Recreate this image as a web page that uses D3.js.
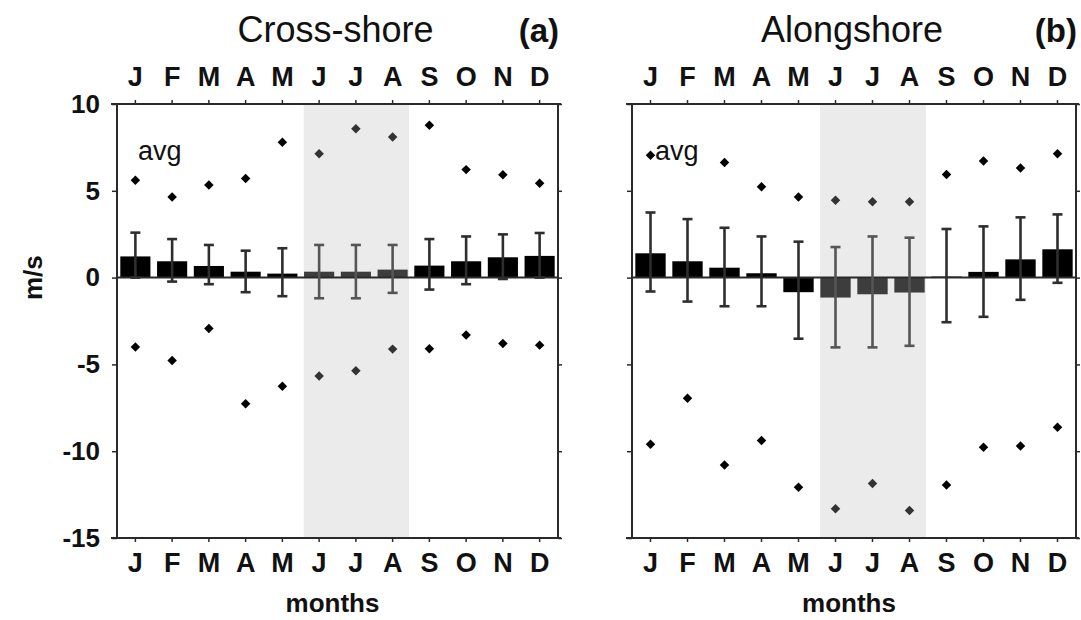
<!DOCTYPE html>
<html>
<head>
<meta charset="utf-8">
<script src="https://cdn.jsdelivr.net/npm/d3@7"></script>
<style>
  html, body { margin: 0; padding: 0; background: #fff; }
  svg { display: block; font-family: "Liberation Sans", Arial, sans-serif; }
</style>
</head>
<body>
<svg id="chart" width="1081" height="620"></svg>
<script>
// ---------- data ----------
const monthLabels = ["J","F","M","A","M","J","J","A","S","O","N","D"];
const monthIdx = d3.range(12);
const summerMonths = [5, 6, 7];
const yTicks = [-15, -10, -5, 0, 5, 10];

// Cross-shore (a)
const crossMean  = [1.22, 0.94, 0.67, 0.34, 0.23, 0.34, 0.34, 0.46, 0.69, 0.94, 1.17, 1.25];
const crossErrHi = [2.59, 2.22, 1.88, 1.55, 1.69, 1.88, 1.88, 1.88, 2.22, 2.37, 2.49, 2.57];
const crossErrLo = [0.00, -0.23, -0.38, -0.84, -1.07, -1.19, -1.19, -0.88, -0.69, -0.38, -0.08, 0.00];
const crossMax   = [5.61, 4.64, 5.34, 5.71, 7.80, 7.13, 8.58, 8.10, 8.78, 6.22, 5.92, 5.44];
const crossMin   = [-4.00, -4.77, -2.93, -7.26, -6.26, -5.67, -5.36, -4.12, -4.10, -3.30, -3.79, -3.89];

// Alongshore (b)
const alongMean  = [1.40, 0.94, 0.57, 0.25, -0.84, -1.15, -0.96, -0.86, 0.06, 0.33, 1.05, 1.63];
const alongErrHi = [3.75, 3.37, 2.87, 2.37, 2.07, 1.76, 2.37, 2.30, 2.80, 2.95, 3.47, 3.64];
const alongErrLo = [-0.80, -1.38, -1.65, -1.65, -3.52, -4.02, -4.02, -3.93, -2.57, -2.26, -1.28, -0.30];
const alongMax   = [7.05, null, 6.63, 5.23, 4.64, 4.46, 4.37, 4.37, 5.94, 6.72, 6.32, 7.13];
const alongMin   = [-9.60, -6.95, -10.79, -9.39, -12.07, -13.31, -11.86, -13.41, -11.95, -9.77, -9.70, -8.62];

const panels = [
  { title: "Cross-shore", tag: "(a)", mean: crossMean, hi: crossErrHi, lo: crossErrLo, max: crossMax, min: crossMin,
    left: 117, right: 558, yLabels: true },
  { title: "Alongshore", tag: "(b)", mean: alongMean, hi: alongErrHi, lo: alongErrLo, max: alongMax, min: alongMin,
    left: 632, right: 1076, yLabels: false }
];

// ---------- drawing ----------
const svg = d3.select("#chart");
const plotTop = 104, plotBottom = 538;
const y = d3.scaleLinear().domain([-15, 10]).range([plotBottom, plotTop]);
const axisColor = "#2a2a2a";
const diamond = { draw(ctx, size) { const r = Math.sqrt(size) / 2; ctx.moveTo(0, -r); ctx.lineTo(r, 0); ctx.lineTo(0, r); ctx.lineTo(-r, 0); ctx.closePath(); } };
const isSummer = i => summerMonths.includes(i);

panels.forEach(p => {
  const g = svg.append("g");
  const x = d3.scaleBand().domain(monthIdx).range([p.left, p.right]).paddingInner(0).paddingOuter(0);
  const bw = x.bandwidth();
  const cx = i => x(i) + bw / 2;

  // summer shading
  const s0 = x(summerMonths[0]) + 3;
  const s1 = x(summerMonths[summerMonths.length - 1]) + bw - 2;
  g.append("rect")
    .attr("x", s0).attr("y", plotTop)
    .attr("width", s1 - s0).attr("height", plotBottom - plotTop)
    .attr("fill", "#ebebeb");

  // bars
  const barW = bw * 0.82;
  g.selectAll("rect.bar").data(monthIdx).join("rect")
    .attr("class", "bar")
    .attr("x", i => cx(i) - barW / 2)
    .attr("y", i => y(Math.max(0, p.mean[i])))
    .attr("width", barW)
    .attr("height", i => Math.abs(y(p.mean[i]) - y(0)))
    .attr("fill", i => isSummer(i) ? "#3d3d3d" : "#000");

  // zero line
  g.append("line").attr("x1", p.left).attr("x2", p.right).attr("y1", y(0)).attr("y2", y(0))
    .attr("stroke", axisColor).attr("stroke-width", 2);

  // error bars
  const capW = 10;
  const eb = g.selectAll("g.err").data(monthIdx).join("g").attr("class", "err")
    .attr("stroke", i => isSummer(i) ? "#555" : "#2e2e2e").attr("stroke-width", 2.6);
  eb.append("line").attr("x1", cx).attr("x2", cx).attr("y1", i => y(p.hi[i])).attr("y2", i => y(p.lo[i]));
  eb.append("line").attr("x1", i => cx(i) - capW / 2).attr("x2", i => cx(i) + capW / 2)
    .attr("y1", i => y(p.hi[i])).attr("y2", i => y(p.hi[i]));
  eb.append("line").attr("x1", i => cx(i) - capW / 2).attr("x2", i => cx(i) + capW / 2)
    .attr("y1", i => y(p.lo[i])).attr("y2", i => y(p.lo[i]));

  // max / min diamonds
  const sym = d3.symbol().type(diamond).size(90);
  const pts = [];
  monthIdx.forEach(i => {
    if (p.max[i] != null) pts.push({ i, v: p.max[i] });
    if (p.min[i] != null) pts.push({ i, v: p.min[i] });
  });
  g.selectAll("path.pt").data(pts).join("path").attr("class", "pt")
    .attr("d", sym)
    .attr("transform", d => `translate(${cx(d.i)},${y(d.v)})`)
    .attr("fill", d => isSummer(d.i) ? "#333" : "#000");

  // axes
  const fmtMonth = i => monthLabels[i];
  const axTop = g.append("g").attr("transform", `translate(0,${plotTop})`)
    .call(d3.axisTop(x).tickFormat(fmtMonth).tickSizeInner(4).tickSizeOuter(0).tickPadding(14));
  const axBot = g.append("g").attr("transform", `translate(0,${plotBottom})`)
    .call(d3.axisBottom(x).tickFormat(fmtMonth).tickSizeInner(4).tickSizeOuter(0).tickPadding(11));
  const axL = g.append("g").attr("transform", `translate(${p.left},0)`)
    .call(d3.axisLeft(y).tickValues(yTicks).tickSizeInner(5).tickSizeOuter(0).tickPadding(12)
      .tickFormat(p.yLabels ? (d => String(d)) : () => ""));
  const axR = g.append("g").attr("transform", `translate(${p.right},0)`)
    .call(d3.axisRight(y).tickValues(yTicks).tickSizeInner(4).tickSizeOuter(0).tickFormat(() => ""));

  [axTop, axBot, axL, axR].forEach(a => {
    a.select(".domain").attr("stroke", axisColor).attr("stroke-width", 2);
    a.selectAll(".tick line").attr("stroke", axisColor).attr("stroke-width", 1.5);
    a.selectAll("text").attr("fill", "#111").style("font-family", "'Liberation Sans', Arial, sans-serif");
  });
  [axTop, axBot].forEach(a => a.select(".domain").attr("d", `M${p.left - 6},0H${p.right + 3}`));
  axL.select(".domain").attr("d", `M0,${plotTop}V${plotBottom}`);
  axR.select(".domain").attr("d", `M0,${plotTop}V${plotBottom}`);

  axTop.selectAll("text").style("font-size", "27px").style("font-weight", "bold");
  axBot.selectAll("text").style("font-size", "27px").style("font-weight", "bold");
  axL.selectAll("text").style("font-size", "26px").style("font-weight", "bold");

  // titles
  svg.append("text").attr("x", (p.left + p.right) / 2 - 2).attr("y", 42)
    .attr("text-anchor", "middle").style("font-size", "36px").attr("fill", "#111").text(p.title);
  svg.append("text").attr("x", p.right + 1).attr("y", 42)
    .attr("text-anchor", "end").style("font-size", "33px").style("font-weight", "bold").attr("fill", "#111").text(p.tag);

  // avg label
  svg.append("text").attr("x", p.left + (p.yLabels ? 21 : 23)).attr("y", 160)
    .style("font-size", "27px").attr("fill", "#111").text("avg");

  // x axis title
  svg.append("text").attr("x", (p.left + p.right) / 2 - 5).attr("y", 612)
    .attr("text-anchor", "middle").style("font-size", "26px").style("font-weight", "bold").attr("fill", "#111").text("months");
});

// y axis title
svg.append("text").attr("transform", `translate(42,${y(0)}) rotate(-90)`)
  .attr("text-anchor", "middle").style("font-size", "26px").style("font-weight", "bold").attr("fill", "#111").text("m/s");
</script>
</body>
</html>
